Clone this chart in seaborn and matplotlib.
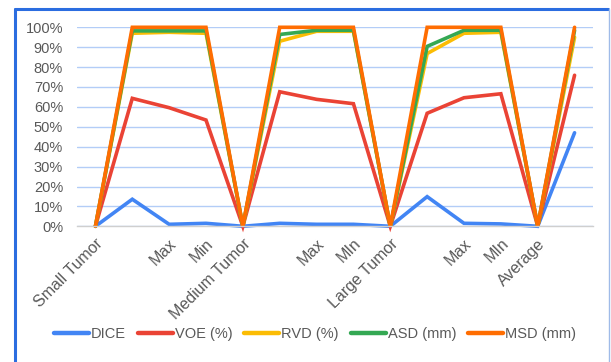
import matplotlib
matplotlib.use("Agg")
import matplotlib.pyplot as plt
from matplotlib.ticker import PercentFormatter
from matplotlib.lines import Line2D
import numpy as np
import pandas as pd
import seaborn as sns

# Category rows: group headers, an unlabeled mean row, then Max / Min rows
categories = ["Small Tumor", "", "Max", "Min",
              "Medium Tumor", "", "Max", "MIn",
              "Large Tumor", "", "Max", "MIn",
              "Average", ""]

dice = [0, 13.6, 1.0, 1.5, 0, 1.5, 1.0, 1.0, 0, 14.9, 1.5, 1.2, 0, 47.0]
voe = [0, 64.3, 59.6, 53.4, 0, 67.6, 63.8, 61.6, 0, 56.8, 64.6, 66.6, 0, 75.9]
rvd = [0, 97.0, 97.5, 97.0, 0, 93.0, 98.0, 98.0, 0, 86.8, 97.0, 97.5, 0, 95.0]
asd = [0, 98.2, 98.2, 98.2, 0, 96.4, 98.5, 98.5, 0, 90.4, 98.5, 98.5, 0, 98.5]
msd = [0, 100, 100, 100, 0, 100, 100, 100, 0, 100, 100, 100, 0, 100]

series_names = ["DICE", "VOE (%)", "RVD (%)", "ASD (mm)", "MSD (mm)"]
series_values = [dice, voe, rvd, asd, msd]
colors = ["#4285F4", "#EA4335", "#FBBC04", "#34A853", "#FF6D01"]

rows = []
for name, vals in zip(series_names, series_values):
    for i, v in enumerate(vals):
        rows.append({"pos": i, "value": v, "series": name})
df = pd.DataFrame(rows)

sns.set_theme(style="white")
plt.rcParams["font.family"] = ["Liberation Sans", "DejaVu Sans"]

fig = plt.figure(figsize=(6.11, 3.62), dpi=100)
ax = fig.add_axes([77 / 611, 1 - 226.3 / 362, (593 - 77) / 611, (226.3 - 27.3) / 362])

sns.lineplot(data=df, x="pos", y="value", hue="series", hue_order=series_names,
             palette=colors, linewidth=2.6, ax=ax, legend=False, sort=False)
for ln in ax.lines:
    ln.set_clip_on(False)
    ln.set_solid_joinstyle("miter")

ax.set_xlim(-0.5, len(categories) - 0.5)
ax.set_ylim(0, 100)
ax.set_yticks(np.arange(0, 101, 10))
ax.yaxis.set_major_formatter(PercentFormatter(100, decimals=0))
ax.set_xticks(range(len(categories)))
ax.set_xticklabels(categories, rotation=45, ha="right", rotation_mode="anchor")
ax.set_xlabel("")
ax.set_ylabel("")
ax.grid(axis="y", color="#b3cdf7", linewidth=1.0)
ax.set_axisbelow(True)
for side in ["left", "right", "top"]:
    ax.spines[side].set_visible(False)
ax.spines["bottom"].set_color("#cfcfcf")
ax.spines["bottom"].set_linewidth(1.0)
ax.tick_params(axis="both", length=0, labelcolor="#595959")
ax.tick_params(axis="y", pad=10, labelsize=10.5)
ax.tick_params(axis="x", pad=7, labelsize=11.5)

handles = [Line2D([], [], color=c, linewidth=3.2, solid_capstyle="round") for c in colors]
fig.legend(handles, series_names, loc="center", bbox_to_anchor=(315 / 611, 1 - 334 / 362),
           ncol=5, frameon=False, fontsize=10.5, labelcolor="#595959",
           handlelength=2.4, handletextpad=0.15, columnspacing=0.8)

# Outer frame around the chart
fig.add_artist(Line2D([15 / 611, 15 / 611], [0, 1 - 8.5 / 362], transform=fig.transFigure,
                      color="#2b6de0", linewidth=2.2))
fig.add_artist(Line2D([15 / 611, 608 / 611], [1 - 8.5 / 362, 1 - 8.5 / 362], transform=fig.transFigure,
                      color="#2b6de0", linewidth=2.2))
fig.add_artist(Line2D([609 / 611, 609 / 611], [0, 1 - 8.5 / 362], transform=fig.transFigure,
                      color="#9fbbe8", linewidth=1.0))

fig.savefig("out.png", dpi=100)
